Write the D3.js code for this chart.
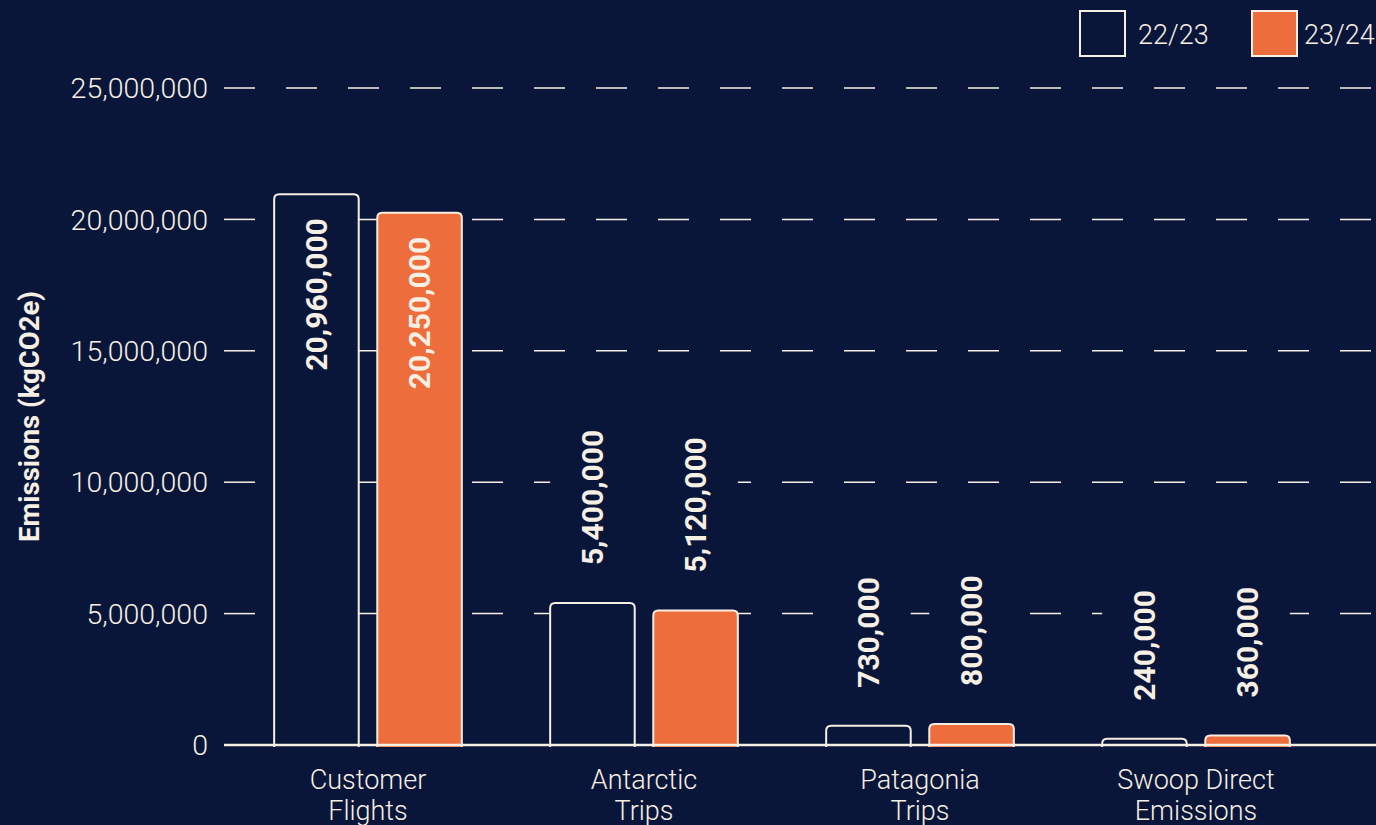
<!DOCTYPE html>
<meta charset="utf-8">
<script src="https://d3js.org/d3.v7.min.js"></script>
<style>
  body { margin: 0; background: #0a1639; overflow: hidden; }
  text { font-family: Roboto, "DejaVu Sans", sans-serif; fill: #f6efe3; }
</style>
<div id="my_dataviz"></div>
<script>
    // data
    var categories = ["Customer Flights", "Antarctic Trips", "Patagonia Trips", "Swoop Direct Emissions"];
    var seriesNames = ["22/23", "23/24"];
    var values2223 = [20960000, 5400000, 730000, 240000];
    var values2324 = [20250000, 5120000, 800000, 360000];
    var yTicks = [0, 5000000, 10000000, 15000000, 20000000, 25000000];

    var bg = "#0a1639", cream = "#f6efe3", orange = "#ed6d3c";
    var fills = { "22/23": bg, "23/24": orange };

    var width = 1376, height = 825;

    var svg = d3.select("#my_dataviz")
      .append("svg")
        .attr("width", width)
        .attr("height", height);

    svg.append("rect").attr("width", width).attr("height", height).attr("fill", bg);

    var x0 = d3.scaleBand()
      .domain(categories)
      .range([230, 1334])
      .paddingInner(0.32)
      .paddingOuter(0.16);

    var x1 = d3.scaleBand()
      .domain(seriesNames)
      .range([0, x0.bandwidth()])
      .paddingInner(0.18);

    var y = d3.scaleLinear()
      .domain([0, 25000000])
      .range([745, 88]);

    var fmt = d3.format(",");

    // dashed gridlines
    svg.append("g")
      .selectAll("line")
      .data(yTicks.slice(1))
      .enter()
      .append("line")
        .attr("x1", 224).attr("x2", width)
        .attr("y1", function(d) { return y(d) })
        .attr("y2", function(d) { return y(d) })
        .attr("stroke", cream)
        .attr("stroke-width", 1.5)
        .attr("stroke-dasharray", "31,31");

    // y tick labels
    svg.append("g")
      .selectAll("text")
      .data(yTicks)
      .enter()
      .append("text")
        .attr("x", 208)
        .attr("y", function(d) { return y(d) })
        .attr("dy", "0.36em")
        .attr("text-anchor", "end")
        .style("font-size", "28.5px")
        .style("font-weight", 300)
        .text(function(d) { return fmt(d) });

    // y axis title
    svg.append("text")
      .attr("transform", "translate(39," + ((y(0) + y(25000000)) / 2) + ") rotate(-90)")
      .attr("text-anchor", "middle")
      .style("font-size", "27.5px")
      .style("font-weight", 700)
      .text("Emissions (kgCO2e)");

    // flatten rows
    var rows = [];
    categories.forEach(function(c, i) {
      rows.push({ cat: c, key: "22/23", value: values2223[i] });
      rows.push({ cat: c, key: "23/24", value: values2324[i] });
    });

    function topRounded(x, yy, w, h, r) {
      r = Math.min(r, h);
      return "M" + x + "," + (yy + h) + "V" + (yy + r) +
        "Q" + x + "," + yy + " " + (x + r) + "," + yy +
        "H" + (x + w - r) +
        "Q" + (x + w) + "," + yy + " " + (x + w) + "," + (yy + r) +
        "V" + (yy + h);
    }

    var inside = function(d) { return d.value > 15000000 };
    var labelX = function(d) { return x0(d.cat) + x1(d.key) + x1.bandwidth() / 2 };

    var maskG = svg.append("g");

    // bars
    svg.append("g")
      .selectAll("path")
      .data(rows)
      .enter()
      .append("path")
        .attr("d", function(d) {
          var bx = x0(d.cat) + x1(d.key);
          return topRounded(bx, y(d.value), x1.bandwidth(), y(0) - y(d.value) + 2, 5);
        })
        .attr("fill", function(d) { return fills[d.key] })
        .attr("stroke", cream)
        .attr("stroke-width", 2);

    // value labels
    var labels = svg.append("g")
      .selectAll("text")
      .data(rows)
      .enter()
      .append("text")
        .attr("transform", function(d) {
          var ly = inside(d) ? y(d.value) + 24 : y(d.value) - 38;
          return "translate(" + labelX(d) + "," + ly + ") rotate(-90)";
        })
        .attr("dy", "0.35em")
        .attr("text-anchor", function(d) { return inside(d) ? "end" : "start" })
        .style("font-size", "30px")
        .style("font-weight", 700)
        .text(function(d) { return fmt(d.value) });

    // background behind outside labels to cut the gridlines
    labels.each(function(d) {
      if (inside(d)) return;
      var len = this.getComputedTextLength();
      var ly = y(d.value) - 38;
      maskG.append("rect")
        .attr("x", x0(d.cat) + x1(d.key))
        .attr("y", ly - len - 6)
        .attr("width", x1.bandwidth())
        .attr("height", len + 12)
        .attr("fill", bg);
    });

    // baseline
    svg.append("line")
      .attr("x1", 224).attr("x2", width)
      .attr("y1", y(0)).attr("y2", y(0))
      .attr("stroke", cream)
      .attr("stroke-width", 2.5);

    // category labels (two lines)
    var cats = svg.append("g")
      .selectAll("text")
      .data(categories)
      .enter()
      .append("text")
        .attr("text-anchor", "middle")
        .style("font-size", "27px")
        .style("font-weight", 300);
    cats.each(function(c) {
      var k = c.lastIndexOf(" ");
      var lines = [c.slice(0, k), c.slice(k + 1)];
      var t = d3.select(this);
      lines.forEach(function(l, i) {
        t.append("tspan")
          .attr("x", x0(c) + x0.bandwidth() / 2)
          .attr("y", 789 + i * 31)
          .text(l);
      });
    });

    // legend
    var legend = svg.append("g")
      .selectAll("g")
      .data(seriesNames)
      .enter()
      .append("g")
        .attr("transform", function(d, i) { return "translate(" + (1080 + i * 172) + ",11)" });
    legend.append("rect")
      .attr("width", 45).attr("height", 45)
      .attr("fill", function(d) { return fills[d] })
      .attr("stroke", cream)
      .attr("stroke-width", 2);
    legend.append("text")
      .attr("x", function(d, i) { return i == 0 ? 58 : 52 })
      .attr("y", 23)
      .attr("dy", "0.36em")
      .style("font-size", "27px")
      .style("font-weight", 300)
      .text(function(d) { return d });
</script>
